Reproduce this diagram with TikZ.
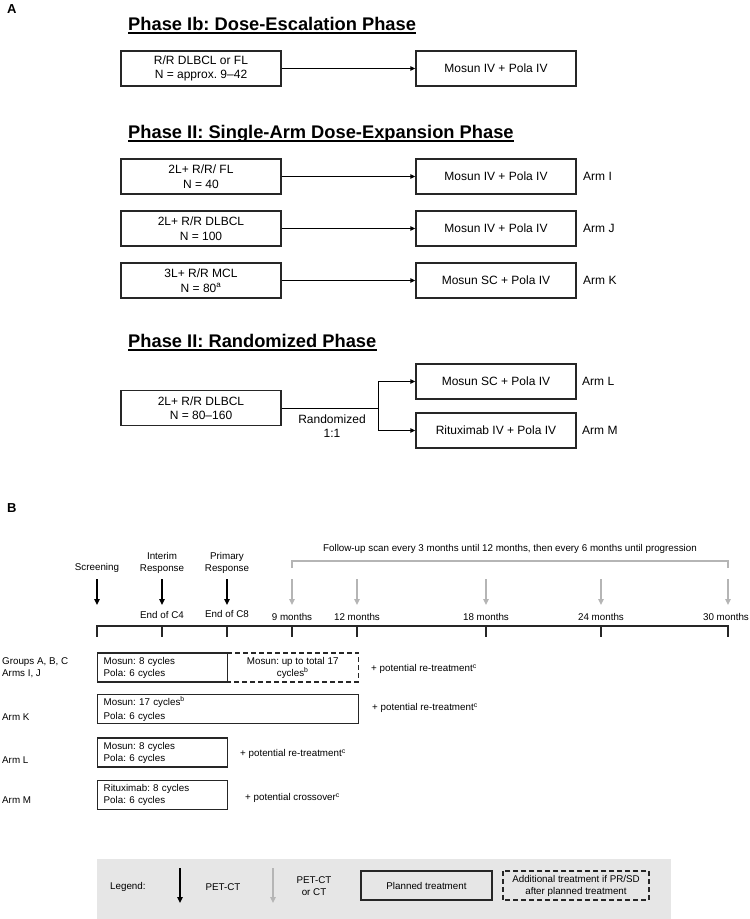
\documentclass[tikz,border=0pt]{standalone}
\usepackage{fontspec}
\setmainfont{Liberation Sans}
\usetikzlibrary{arrows.meta}
\definecolor{boxc}{HTML}{262626}
\definecolor{grayarr}{HTML}{B5B5B5}
\definecolor{legfill}{HTML}{E6E6E6}
\begin{document}
\frenchspacing
\begin{tikzpicture}[x=1pt,y=-1pt,
  fa/.style={font=\fontsize{12}{14.5}\selectfont},
  fb/.style={font=\fontsize{9.8}{12}\selectfont},
  paneltitle/.style={font=\fontsize{18.3}{20}\selectfont\bfseries, anchor=base west, inner sep=0pt},
  panelletter/.style={font=\fontsize{13}{13}\selectfont\bfseries, anchor=west, inner sep=0pt},
  uline/.style={line width=1.8pt},
  abox/.style={fa, draw=boxc, line width=1.4pt, minimum width=160pt, minimum height=35pt, inner sep=0pt, align=center},
  arr/.style={line width=0.9pt, -{Triangle[length=5pt,width=4.5pt]}},
  armlab/.style={fa, anchor=west, inner sep=0pt},
  blackarr/.style={line width=1.8pt, -{Triangle[length=6pt,width=5.5pt]}},
  grayarrow/.style={grayarr, line width=1.8pt, -{Triangle[length=6pt,width=5.5pt]}},
  tbox/.style={fb, draw=boxc, line width=1.4pt, minimum height=29pt, inner xsep=6pt, inner ysep=0pt, align=left, anchor=west},
  dbox/.style={boxc, line width=1.5pt, dash pattern=on 5pt off 3pt},
  txt/.style={fb, inner sep=0pt},
  wtxt/.style={fb, inner sep=0pt, anchor=west},
]
\useasboundingbox (0,0) rectangle (750,919);

% ---------------- Panel A ----------------
\node[panelletter] (lA) at (7,9) {A};

\node[paneltitle] (t1) at (128,30) {Phase Ib: Dose-Escalation Phase};
\draw[uline] ([yshift=-3pt]t1.base west) -- ([yshift=-3pt]t1.base east);

\node[abox] (p1) at (201,68.5) {R/R DLBCL or FL\\N = approx. 9--42};
\node[abox] (q1) at (496,68.5) {Mosun IV + Pola IV};
\draw[arr] (p1) -- (q1);

\node[paneltitle] (t2) at (128,138) {Phase II: Single-Arm Dose-Expansion Phase};
\draw[uline] ([yshift=-3pt]t2.base west) -- ([yshift=-3pt]t2.base east);

\node[abox] (pI) at (201,176.5) {2L+ R/R/ FL\\N = 40};
\node[abox] (qI) at (496,176.5) {Mosun IV + Pola IV};
\draw[arr] (pI) -- (qI);
\node[armlab] (aI) at (583,176.5) {Arm I};

\node[abox] (pJ) at (201,228.5) {2L+ R/R DLBCL\\N = 100};
\node[abox] (qJ) at (496,228.5) {Mosun IV + Pola IV};
\draw[arr] (pJ) -- (qJ);
\node[armlab] (aJ) at (583,228.5) {Arm J};

\node[abox] (pK) at (201,280.5) {3L+ R/R MCL\\N = 80\textsuperscript{a}};
\node[abox] (qK) at (496,280.5) {Mosun SC + Pola IV};
\draw[arr] (pK) -- (qK);
\node[armlab] (aK) at (583,280.5) {Arm K};

\node[paneltitle] (t3) at (128,347) {Phase II: Randomized Phase};
\draw[uline] ([yshift=-3pt]t3.base west) -- ([yshift=-3pt]t3.base east);

\node[abox] (pR) at (201,408) {2L+ R/R DLBCL\\N = 80--160};
\node[abox] (qL) at (496,381.5) {Mosun SC + Pola IV};
\node[abox] (qM) at (496,430.5) {Rituximab IV + Pola IV};
\coordinate (jn) at (378,408);
\draw[line width=0.9pt] (pR) -- (jn);
\draw[arr] (jn) |- (qL);
\draw[arr] (jn) |- (qM);
\node[fa, align=center, inner sep=0pt] (rnd) at (332,426) {Randomized\\1:1};
\node[armlab] (aL) at (582,381.5) {Arm L};
\node[armlab] (aM) at (582,430.5) {Arm M};

% ---------------- Panel B ----------------
\node[panelletter] (lB) at (7,508) {B};

\node[txt] (fu) at (510,549) {Follow-up scan every 3 months until 12 months, then every 6 months until progression};
\coordinate (brA) at (292,568);
\coordinate (brB) at (728,568);
\draw[grayarr, line width=2.4pt] (brA) -- (292,561) -- (728,561) -- (brB);

\node[txt] (scr) at (97,568) {Screening};
\node[txt, align=center] (int) at (162,563) {Interim\\Response};
\node[txt, align=center] (pri) at (227,563) {Primary\\Response};

\foreach \n/\x in {s/97, i/162, p/227}{
  \coordinate (\n top) at (\x,579);
  \coordinate (\n bot) at (\x,605);
  \draw[blackarr] (\n top) -- (\n bot);
}
\foreach \n/\x in {m9/292, m12/357, m18/486, m24/601, m30/728}{
  \coordinate (\n top) at (\x,579);
  \coordinate (\n bot) at (\x,605);
  \draw[grayarrow] (\n top) -- (\n bot);
}

\node[txt] (c4) at (162,615) {End of C4};
\node[txt] (c8) at (227,614) {End of C8};
\node[txt] (l9) at (292,617) {9 months};
\node[txt] (l12) at (357,617) {12 months};
\node[txt] (l18) at (486,617) {18 months};
\node[txt] (l24) at (601,617) {24 months};
\node[txt] (l30) at (726,617) {30 months};

\coordinate (tlA) at (97,626);
\coordinate (tlB) at (728,626);
\draw[line width=1.4pt, boxc] (tlA) -- (tlB);
\foreach \x in {97,162,227,292,357,486,601,728}{
  \draw[line width=1.4pt, boxc] (\x,625.4) -- (\x,637);
}

% rows
\node[wtxt, align=left] (rg) at (2,668) {Groups A, B, C\\Arms I, J};
\node[tbox, text width=118pt] (g1) at (97,667.5) {Mosun: 8 cycles\\Pola: 6 cycles};
\node[fb, minimum width=131pt, minimum height=29pt, inner sep=0pt, align=center, anchor=west] (g2) at (227,667.5) {Mosun: up to total 17\\cycles\textsuperscript{b}};
\draw[dbox] (g2.north west) -- (g2.north east) -- (g2.south east) -- (g2.south west);
\node[wtxt] (g3) at (371,669) {+ potential re-treatment\textsuperscript{c}};

\node[wtxt] (rk) at (2,717) {Arm K};
\node[tbox, text width=249pt, font=\fontsize{9.8}{14}\selectfont] (k1) at (97,709) {Mosun: 17 cycles\textsuperscript{b}\\Pola: 6 cycles};
\node[wtxt] (k2) at (372,708) {+ potential re-treatment\textsuperscript{c}};

\node[wtxt] (rl) at (2,760) {Arm L};
\node[tbox, text width=118pt] (l1) at (97,752.5) {Mosun: 8 cycles\\Pola: 6 cycles};
\node[wtxt] (l2) at (240,754) {+ potential re-treatment\textsuperscript{c}};

\node[wtxt] (rm) at (2,800) {Arm M};
\node[tbox, text width=118pt] (m1) at (97,795) {Rituximab: 8 cycles\\Pola: 6 cycles};
\node[wtxt] (m2) at (245,798) {+ potential crossover\textsuperscript{c}};

% legend
\node[fill=legfill, minimum width=574pt, minimum height=60pt, inner sep=0pt, anchor=north west] (leg) at (97,859) {};
\node[wtxt] (legt) at (110,887) {Legend:};
\coordinate (lbA) at (180,868);
\coordinate (lbB) at (180,903);
\draw[blackarr] (lbA) -- (lbB);
\node[txt] (lpet) at (223,887) {PET-CT};
\coordinate (lgA) at (273,868);
\coordinate (lgB) at (273,903);
\draw[grayarrow] (lgA) -- (lgB);
\node[txt, align=center] (lpct) at (314,886.5) {PET-CT\\or CT};
\node[fb, draw=boxc, line width=1.4pt, minimum width=131pt, minimum height=29pt, inner sep=0pt] (lpl) at (426.5,885.5) {Planned treatment};
\node[fb, minimum width=146pt, minimum height=29pt, inner sep=0pt, align=center] (lad) at (576,885.5) {Additional treatment if PR/SD\\after planned treatment};
\draw[dbox] (lad.north west) rectangle (lad.south east);
\end{tikzpicture}
\end{document}
